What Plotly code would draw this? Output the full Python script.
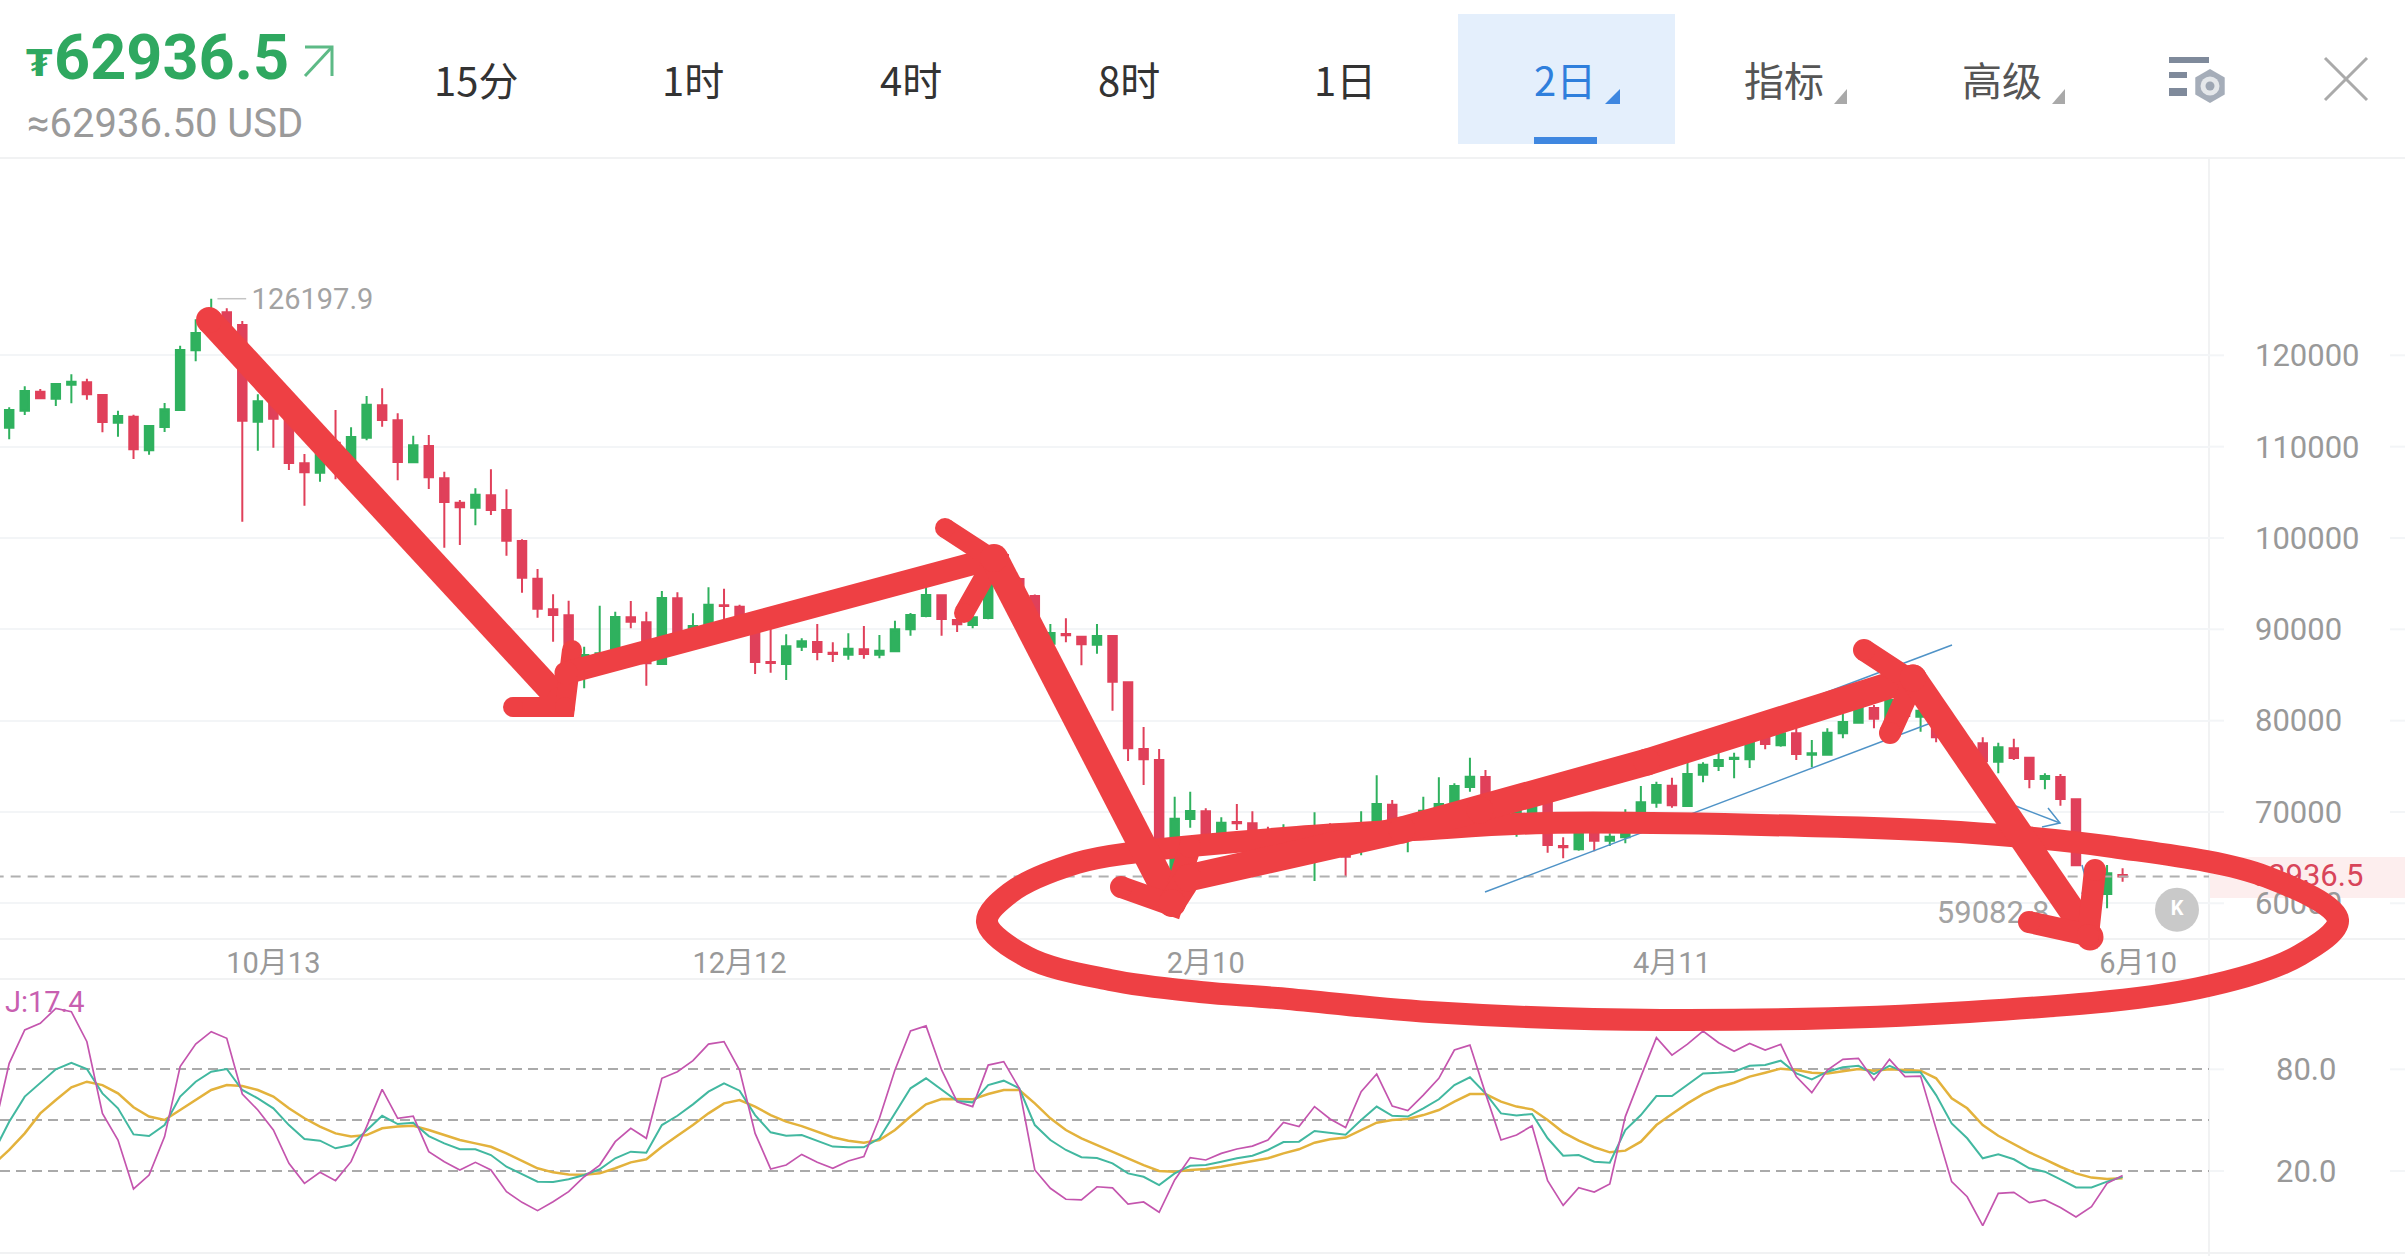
import plotly.graph_objects as go

W, H = 2405, 1256
FONT = "Roboto, 'Noto Sans CJK SC', sans-serif"
CJK = "'Noto Sans CJK SC', Roboto, sans-serif"

# ---- 2-day candles ---------------------------------------------------------
opens = [112075,113937,116018,115251,116784,117040,115653,112623,113280,109594,112148,114010,120544,122405,124705,123318,112733,114923,112988,108170,107148,110433,107805,110980,114521,112879,108280,110068,106527,103863,103316,104666,103060,
99668,95544,92186,91529,85360,85543,87003,91310,90763,86200,93391,88463,90288,92624,92478,91018,86419,86200,88098,88609,87441,87222,87806,87222,87587,89996,91456,93719,91018,90470,91237,98136,95507,93647,
88428,89486,89194,88318,89267,84194,76894,75689,63097,69228,70068,67111,68900,68754,67111,66199,67477,65104,67659,67659,66199,68024,70798,66929,68389,69119,70871,72732,73827,69850,68755,69668,71310,66273,65908,67660,66857,67222,68025,71018,72880,70653,74084,75033,75800,75763,78098,77295,78609,76273,76273,78609,79777,81383,80069,82259,80434,79886,78244,76966,77514,75507,76966,75945,73608,73827,71382,64009,61016,63100]
highs = [114302,116602,116310,116930,117916,117441,115762,113937,113499,112331,114777,121055,123938,126197.9,125143,123755,115725,115000,113280,109192,110178,114010,112112,115543,116383,113645,111200,111272,107258,104155,105433,107513,105323,
99851,96602,93829,93135,88098,92587,91930,93098,91930,94194,94047,91748,94595,94449,92697,91100,90106,89448,89011,90580,88573,89558,90361,89376,90945,91784,94668,93800,92113,91400,96493,98500,95700,93800,
90581,91201,89250,90581,89300,84250,79302,76894,71674,72221,70396,69411,70871,70068,68389,68644,68170,69958,68754,68200,70068,74010,71309,69411,71674,73791,73134,75944,74594,70032,71310,71492,71492,67222,67700,67843,67660,70288,72843,73318,73755,76055,75435,77150,76493,78600,78609,78865,79521,77879,79157,80726,81711,81711,82624,82624,82259,80434,78974,77879,78171,77587,78025,76054,74229,74156,71450,64739,64192,63826]
lows = [110798,113463,115178,114448,114740,115142,111565,111090,108645,109119,111601,113974,119339,122332,123208,101782,109557,109885,107440,103534,106163,106418,107622,110689,112185,106309,108243,105360,98935,99228,101381,102513,98060,
94011,91274,88645,85178,83535,85178,86820,90106,83828,86163,88098,87733,90100,90835,90835,85105,85251,84448,87623,86602,86419,86674,86784,86820,87550,89303,91310,89303,89704,90106,91091,95400,92300,89500,
88099,88574,86055,87332,81091,75580,72952,62914,62987,68280,67002,66929,68024,66199,65104,66017,65834,62440,65469,62914,65250,67841,67659,65578,68024,68936,70760,72221,69484,67660,67295,69485,65543,64922,65762,65689,66273,66565,67843,70471,70471,70580,73245,74486,73682,74814,76857,77149,75689,74886,76200,78061,79704,79157,79886,79886,78791,77623,77331,76784,75397,74229,75689,72586,72477,70689,64100,59082.8,59447,62366]
closes = [114010,116090,115288,116857,117113,115725,112696,113353,109703,112258,114083,120580,122441,124778,123318,112842,114959,113061,108207,107185,109995,107622,111053,114594,112915,108316,110141,106637,103936,103352,104739,103060,99702,
95654,92259,91566,85543,87185,87368,91346,90835,86273,93427,88463,90361,92697,92551,91018,86419,86310,88135,88682,87514,87295,87879,87295,87660,89996,91566,93756,91128,90543,91310,96128,95618,92551,89924,
89596,89340,88355,89267,84267,76967,75762,63097,69265,70105,67075,68827,68754,66929,65469,67659,66017,66929,65834,65104,67659,70871,68024,68389,70141,70871,72842,73864,69849,68208,70763,71128,66383,66127,67660,66857,67295,68025,71055,72953,70726,74157,75179,75690,75946,78245,77441,78609,76346,76419,78682,79850,81456,80215,82259,80507,81091,78171,77697,77697,75543,77076,75908,73608,73937,71419,64155,61089,63279,62936.5]
candle_index = list(range(len(opens)))

# ---- KDJ oscillator (starts one bar before the first candle) ----------------
k_values = [31,49.1,63.9,71.7,80.0,83.9,80.2,65.8,57.0,41.6,40.6,47.1,63.9,72.7,78.6,80.2,67.8,62.9,57.0,47.1,38.9,37.9,33.4,35.3,44.2,52.6,47.7,48.5,40.6,36.3,32.8,32.8,29.4,22.5,18.2,13.7,13.5,15.1,17.6,21.0,27.5,31.4,30.8,47.1,52.6,59.3,66.8,71.7,67.4,53.0,42.8,40.8,41.2,37.7,34.4,34.0,34.0,39.3,54.0,68.8,74.7,67.8,61.3,60.5,70.7,73.3,68.8,47.1,38.3,32.4,28.1,27.7,24.5,18.6,16.6,11.7,18.6,23.1,23.5,25.5,27.5,29.0,32.4,37.1,37.3,43.6,42.6,41.4,50.1,58.0,52.6,52.1,57.0,62.3,70.7,75.3,65.8,54.0,52.8,53.6,39.3,29.0,29.4,25.5,24.9,44.2,53.0,64.2,64.2,71.1,77.6,78.0,78.6,82.1,82.5,85.1,77.6,74.1,78.6,81.2,82.1,77.2,82.0,78.2,78.2,64.8,48.1,39.3,27.5,29.8,26.9,21.6,19.6,15.1,10.3,10.3,13.7,16.6]
d_values = [24,32.4,42.2,54.0,61.9,69.4,72.7,70.7,65.8,57.6,52.1,50.1,56.0,61.9,67.8,70.7,70.1,67.8,63.9,57.0,51.1,46.2,42.2,40.3,41.2,45.2,46.2,46.7,44.2,41.2,38.3,36.3,34.3,30.4,26.1,21.6,19.2,18.0,17.8,18.6,21.6,25.1,26.9,34.3,40.8,47.1,54.0,59.9,61.9,58.0,53.0,49.1,46.5,43.2,39.9,37.9,36.7,38.3,44.2,52.1,59.3,62.5,62.3,62.3,65.4,67.8,67.8,59.9,51.1,44.2,39.3,35.3,31.4,27.5,23.5,20.0,19.6,20.6,21.2,22.5,24.1,25.7,27.5,30.4,32.8,36.7,38.7,39.7,44.2,48.5,50.1,50.7,53.0,56.0,60.9,65.4,65.4,60.9,58.0,56.4,50.1,42.8,37.9,34.0,31.0,32.0,37.3,47.1,53.6,59.9,65.4,69.4,72.1,75.7,78.0,80.4,79.6,78.0,77.6,79.0,80.2,79.2,80.0,79.6,79.2,74.7,62.9,57.0,47.1,40.8,35.9,31.0,26.9,22.5,18.6,16.1,15.3,15.7]
j_values = [43.4,83.5,103.2,107.1,116.0,114.0,96.3,54.0,38.3,9.4,17.6,40.3,81.6,94.9,102.2,98.3,65.4,56.0,44.2,24.5,12.7,19.2,14.3,25.5,46.2,68.2,51.1,52.4,31.4,25.5,20.6,25.1,20.6,7.8,1.5,-3.4,1.9,7.8,16.6,23.5,37.3,45.2,39.3,74.7,78.6,85.1,94.9,96.3,79.6,42.2,21.2,23.5,29.8,25.1,21.6,25.9,28.5,51.1,79.6,102.6,105.6,79.6,60.9,58.0,82.5,84.5,68.8,20.6,9.8,3.3,2.9,10.7,10.0,0.5,1.7,-4.4,14.7,27.9,26.5,30.4,33.0,34.7,38.3,48.7,46.2,58.0,50.7,45.6,66.8,77.2,58.3,55.6,64.8,74.7,91.4,94.3,65.8,38.3,41.2,46.7,14.3,-0.3,10.2,7.6,12.3,52.1,75.7,98.7,88.4,94.9,102.6,95.7,90.6,95.3,91.4,94.7,75.7,66.2,79.6,85.9,86.5,73.7,85.9,75.7,76.0,44.2,13.7,4.8,-12.3,6.8,7.4,1.3,2.9,-1.5,-7.2,-1.1,12.7,17.4]
kdj_index = list(range(-1, len(opens)))

# ---- axis labels ------------------------------------------------------------
date_positions = [17, 47, 77, 107, 137]
date_labels = ["10月13", "12月12", "2月10", "4月11", "6月10"]
price_ticks = [60000, 70000, 80000, 90000, 100000, 110000, 120000]
kdj_ticks = [20, 50, 80]
kdj_tick_labels = ["20.0", "", "80.0"]

last_price = closes[-1]
peak_price = max(highs)
trough_price = min(lows)

# ---- header tabs ------------------------------------------------------------
tab_labels = ["15分", "1时", "4时", "8时", "1日", "2日", "指标", "高级"]
tab_centres = [476, 693, 911, 1129, 1345, 1565, 1784, 2002]

# ---- hand-drawn pen marks, in screen pixels: (xs, ys, pen width) -------------
pen_strokes = [
    ([209, 560], [320, 700], 26),
    ([513, 565, 572], [707, 707, 650], 20),
    ([566, 994], [673, 558], 23),
    ([945, 994, 964], [528, 560, 613], 20),
    ([994, 1172], [558, 903], 28),
    ([1121, 1172, 1190], [887, 905, 847], 22),
    ([1172, 1188, 1402, 1480, 1647, 1913], [903, 878, 830, 810, 762, 678], 27),
    ([1864, 1913, 1890], [650, 682, 733], 22),
    ([1913, 2090], [678, 937], 27),
    ([2029, 2088, 2095], [922, 935, 870], 22),
]
pen_loop_x = [1547, 1805, 1960, 2113, 2267, 2338, 2300, 2199, 1969, 1661, 1430, 1277, 1200, 1110, 1027, 987, 1010, 1077, 1137, 1297, 1413, 1547]
pen_loop_y = [823, 826, 832, 847, 877, 920, 955, 988, 1012, 1020, 1012, 998, 992, 980, 957, 922, 893, 863, 852, 837, 830, 823]
blue_strokes = [
    ([1485, 1952], [892, 715]),
    ([1769, 1952], [714, 645]),
    ([2008, 2060], [803, 823]),
    ([2048, 2060, 2042], [808, 823, 827]),
    ([2082, 2086, 2082], [865, 880, 894]),
]

PEN_RED = "#ee4044"
GREEN = "#2fb15e"
RED = "#e0405a"
GREY = "#a3a3a3"
GRID = "#f3f5f7"


def px(x):
    return x / W


def py(y):
    return 1 - y / H


fig = go.Figure()

# ---- price panel ------------------------------------------------------------
fig.add_trace(go.Scatter(x=[-1, 142], y=[last_price, last_price], mode="lines",
                         line=dict(color="#b0b0b0", width=2, dash="10px,7px"),
                         xaxis="x", yaxis="y", showlegend=False))
fig.add_trace(go.Candlestick(
    x=candle_index, open=opens, high=highs, low=lows, close=closes,
    increasing=dict(line=dict(color=GREEN, width=2), fillcolor=GREEN),
    decreasing=dict(line=dict(color=RED, width=2), fillcolor=RED),
    whiskerwidth=0, xaxis="x", yaxis="y", showlegend=False))

# extreme-price labels with their short leader lines
peak_at = highs.index(peak_price)
trough_at = lows.index(trough_price)
fig.add_trace(go.Scatter(x=[peak_at + 0.4, peak_at + 2.25], y=[peak_price, peak_price], mode="lines",
                         line=dict(color="#c4c4c4", width=1.5), showlegend=False))
fig.add_trace(go.Scatter(x=[peak_at + 2.6], y=[peak_price - 350], mode="text", text=[f"{peak_price:.1f}"],
                         textposition="middle right", textfont=dict(family=FONT, size=29, color=GREY),
                         cliponaxis=False, showlegend=False))
fig.add_trace(go.Scatter(x=[trough_at - 1.7, trough_at - 0.3], y=[trough_price, trough_price], mode="lines",
                         line=dict(color="#c4c4c4", width=1.5), showlegend=False))
fig.add_trace(go.Scatter(x=[trough_at - 2.7], y=[trough_price - 400], mode="text", text=[f"{trough_price:.1f}"],
                         textposition="middle left", textfont=dict(family=FONT, size=31, color=GREY),
                         cliponaxis=False, showlegend=False))
# jump-to-latest button
fig.add_trace(go.Scatter(x=[139.5], y=[59300], mode="markers+text", text=["<b>K</b>"],
                         textposition="middle center", textfont=dict(family=FONT, size=20, color="white"),
                         marker=dict(size=44, color="#c9c9c9"), showlegend=False))

# ---- KDJ panel --------------------------------------------------------------
for values, colour, width in ((d_values, "#e3b23c", 2.5), (k_values, "#42b8a0", 2), (j_values, "#c455ae", 1.7)):
    fig.add_trace(go.Scatter(x=kdj_index, y=values, mode="lines", line=dict(color=colour, width=width),
                             xaxis="x2", yaxis="y2", showlegend=False))

# ---- overlay canvases: header icons below, pen marks on top -------------------


def canvas_line(xs, ys, colour, width, layer="3", round_ends=False, **line_kw):
    fig.add_trace(go.Scatter(
        x=xs, y=ys, mode="lines+markers" if round_ends else "lines",
        line=dict(color=colour, width=width, **line_kw),
        marker=dict(size=width, color=colour, line=dict(width=0)),
        xaxis="x" + layer, yaxis="y" + layer, showlegend=False))


def canvas_fill(xs, ys, colour):
    fig.add_trace(go.Scatter(x=xs, y=ys, mode="lines", fill="toself", fillcolor=colour,
                             line=dict(width=0, color=colour), xaxis="x3", yaxis="y3", showlegend=False))


# current-price tag on the value axis
fig.add_trace(go.Scatter(x=[2307], y=[878], mode="text", text=[f"{last_price:.1f}"],
                         textposition="middle center", textfont=dict(family=FONT, size=31, color="#d8455a"),
                         xaxis="x3", yaxis="y3", showlegend=False))
# change arrow beside the price
canvas_line([305, 332], [76, 47], "#5dba86", 3)
canvas_line([305, 332, 332], [47, 47, 76], "#5dba86", 3)
# dropdown corner triangles
canvas_fill([1620, 1620, 1605, 1620], [89, 104, 104, 89], "#3f87e0")
canvas_fill([1847, 1847, 1834, 1847], [89, 104, 104, 89], "#a9a9a9")
canvas_fill([2065, 2065, 2052, 2065], [89, 104, 104, 89], "#a9a9a9")
# settings icon
fig.add_trace(go.Scatter(x=[2210, 2210, 2210], y=[86, 86, 86], mode="markers",
                         marker=dict(size=[34, 19, 9], color=["#7f8a9b", "white", "#7f8a9b"],
                                     symbol=["hexagon", "circle", "circle"], line=dict(width=0)),
                         xaxis="x3", yaxis="y3", showlegend=False))
# close cross
canvas_line([2325, 2367], [58, 100], "#aaaaaa", 3)
canvas_line([2325, 2367], [100, 58], "#aaaaaa", 3)

for xs, ys in blue_strokes:
    canvas_line(xs, ys, "#4f93c7", 1.5)

canvas_line(pen_loop_x, pen_loop_y, PEN_RED, 22, layer="4", shape="spline", smoothing=1.0)
for xs, ys, pen_width in pen_strokes:
    canvas_line(xs, ys, PEN_RED, pen_width, layer="4", round_ends=True)

# ---- flat page furniture ------------------------------------------------------


def rect(x0, y0, x1, y1, colour):
    return dict(type="rect", xref="paper", yref="paper", x0=px(x0), x1=px(x1), y0=py(y0), y1=py(y1),
                fillcolor=colour, line=dict(width=0), layer="below")


def rule(x0, y0, x1, y1, colour="#f1f2f3", width=2):
    return dict(type="line", xref="paper", yref="paper", x0=px(x0), x1=px(x1), y0=py(y0), y1=py(y1),
                line=dict(color=colour, width=width), layer="below")


shapes = [
    rect(1458, 14, 1675, 144, "#e4effc"),
    rect(1534, 137, 1597, 144, "#3f87e0"),
    rect(2169, 57, 2209, 63, "#7f8a9b"),
    rect(2169, 72, 2187, 78, "#7f8a9b"),
    rect(2169, 88, 2187, 96, "#7f8a9b"),
    rect(2209, 857, W, 898, "#fdeeee"),
    rule(0, 158, W, 158),
    rule(2209, 158, 2209, H),
    rule(0, 939, W, 939),
    rule(0, 979, W, 979),
    rule(0, 1253, W, 1253),
]
# grid stubs either side of the value labels
for tick in price_ticks:
    for a, b in ((2209, 2224), (2390, W)):
        shapes.append(dict(type="line", xref="paper", yref="y", x0=px(a), x1=px(b), y0=tick, y1=tick,
                           line=dict(color=GRID, width=2), layer="below"))
for tick in (20, 80):
    for a, b in ((2209, 2224), (2390, W)):
        shapes.append(dict(type="line", xref="paper", yref="y2", x0=px(a), x1=px(b), y0=tick, y1=tick,
                           line=dict(color=GRID, width=2), layer="below"))


def label(x, y, text, size, colour, family=FONT, anchor="center"):
    return dict(xref="paper", yref="paper", x=px(x), y=py(y), text=text, showarrow=False,
                xanchor=anchor, yanchor="middle", font=dict(family=family, size=size, color=colour))


annotations = [
    label(24, 63, "<b>₮</b>", 38, "#2fa860", family="'DejaVu Sans', sans-serif", anchor="left"),
    label(52, 57, f"<b>{last_price:.1f}</b>", 63, "#2fa860", anchor="left"),
    label(25, 124, f"≈{last_price:.2f} USD", 40, "#9a9a9a", anchor="left"),
    label(3, 1002, f"J:{j_values[-1]:.1f}", 29, "#c85fb0", anchor="left"),
]
for text, centre in zip(tab_labels, tab_centres):
    colour = "#2f7fdc" if text == "2日" else ("#555555" if text in ("指标", "高级") else "#333333")
    annotations.append(label(centre, 79, text, 40, colour, family=CJK))

X_RANGE = [-0.592, 141.56]
X_DOMAIN = [0, 2209 / W]

fig.update_layout(
    width=W, height=H, margin=dict(l=0, r=0, t=0, b=0, pad=0), autosize=False,
    paper_bgcolor="white", plot_bgcolor="rgba(0,0,0,0)",
    hovermode=False, showlegend=False, boxgap=0.22,
    shapes=shapes, annotations=annotations,
    xaxis=dict(domain=X_DOMAIN, range=X_RANGE, anchor="y", showgrid=False, zeroline=False, showline=False,
               rangeslider=dict(visible=False), tickmode="array", tickvals=date_positions, ticktext=date_labels,
               ticks="", tickangle=0, ticklabelstandoff=4, tickfont=dict(family=FONT, size=29, color="#999999")),
    yaxis=dict(domain=[py(939), py(158)], range=[56091, 141605], anchor="x", side="right", zeroline=False,
               showline=False, tickmode="array", tickvals=price_ticks, ticktext=[str(t) for t in price_ticks],
               gridcolor=GRID, gridwidth=2, ticks="", ticklabelstandoff=45,
               tickfont=dict(family=FONT, size=31, color="#999999")),
    xaxis2=dict(domain=X_DOMAIN, range=X_RANGE, anchor="y2", visible=False),
    yaxis2=dict(domain=[py(1253), py(979)], range=[-28.4, 133.3], anchor="x2", side="right", zeroline=False,
                showline=False, tickmode="array", tickvals=kdj_ticks, ticktext=kdj_tick_labels,
                gridcolor="#aaaaaa", gridwidth=2, griddash="10px,6px", ticks="", ticklabelstandoff=66,
                tickfont=dict(family=FONT, size=31, color="#999999")),
    xaxis3=dict(domain=[0, 1], range=[0, W], anchor="y3", visible=False),
    yaxis3=dict(domain=[0, 1], range=[H, 0], anchor="x3", visible=False),
    xaxis4=dict(domain=[0, 1], range=[0, W], anchor="y4", visible=False),
    yaxis4=dict(domain=[0, 1], range=[H, 0], anchor="x4", visible=False),
)

fig.write_html("out.html")
